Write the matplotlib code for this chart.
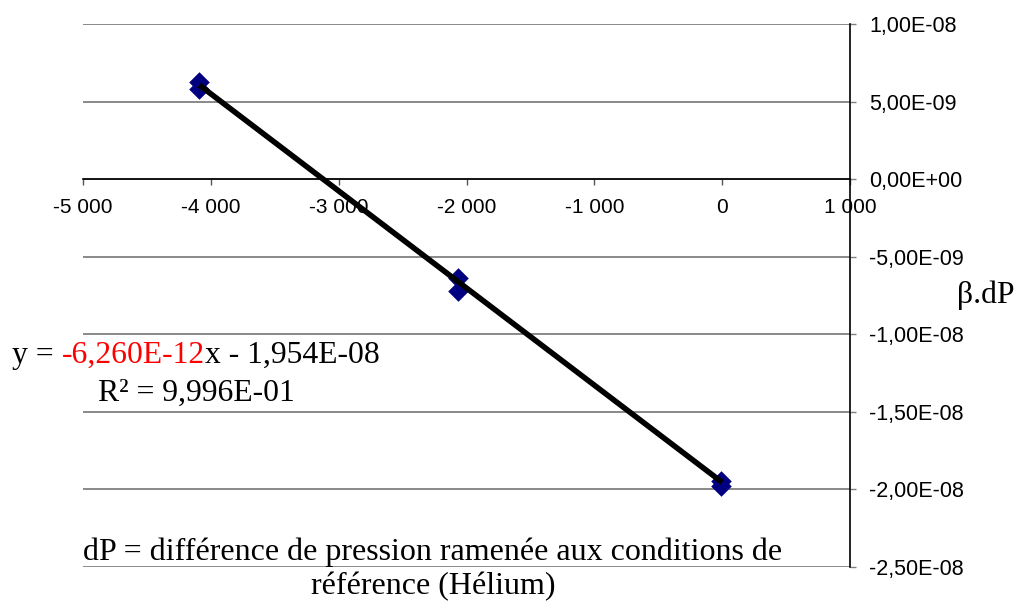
import numpy as np
import matplotlib
matplotlib.use("Agg")
import matplotlib.pyplot as plt
from matplotlib.ticker import FuncFormatter

# points
dp = [-4090, -4090, -2070, -2070, -10, -10]
beta_dp = [6.25e-9, 5.8e-9, -6.4e-9, -7.2e-9, -1.946e-8, -1.98e-8]

slope = -6.260e-12
intercept = -1.954e-08
fit_x = [-4090, 0]

x_ticks = [-5000, -4000, -3000, -2000, -1000, 0, 1000]
y_ticks = [1e-8, 5e-9, 0, -5e-9, -1e-8, -1.5e-8, -2e-8, -2.5e-8]

W, H = 1018, 603
fig = plt.figure(figsize=(W / 100, H / 100), dpi=100)
ax = fig.add_axes([83 / W, 1 - 567 / H, (850 - 83) / W, (567 - 24) / H])

ax.set_xlim(-5000, 1000)
ax.set_ylim(-2.5e-8, 1e-8)

for v in y_ticks:
    ax.axhline(v, color="#808080", lw=1.3, zorder=1)

fit_y = [slope * v + intercept for v in fit_x]
ax.plot(fit_x, fit_y, color="black", lw=4, zorder=3, solid_capstyle="butt")
ax.scatter(dp, beta_dp, marker="D", s=110, color="#000080", zorder=2, linewidths=0)

# x axis runs through y=0, y axis on the right
for s in ["top", "left"]:
    ax.spines[s].set_visible(False)
ax.spines["bottom"].set_position(("data", 0))
ax.spines["bottom"].set_linewidth(1.2)
ax.spines["right"].set_linewidth(1.2)
ax.spines["right"].set_zorder(4)
ax.spines["bottom"].set_zorder(4)

ax.set_xticks(x_ticks)
ax.set_yticks(y_ticks)
ax.xaxis.set_major_formatter(FuncFormatter(lambda v, p: f"{int(v):,}".replace(",", " ")))
ax.yaxis.set_major_formatter(FuncFormatter(lambda v, p: f"{v:.2E}".replace(".", ",")))
ax.yaxis.tick_right()
ax.tick_params(axis="x", direction="out", length=4.5, width=1, color="#555555", pad=9,
               labelsize=15, labelfontfamily="Liberation Sans")
ax.tick_params(axis="y", direction="out", length=4, width=1, color="#808080", pad=10,
               labelsize=15.5, labelfontfamily="Liberation Sans")
for lab in ax.get_xticklabels():
    lab.set_zorder(5)

serif = "Liberation Serif"
fs = 22.8
fig.text(957 / W, 1 - 303 / H, "β.dP", fontsize=fs, family=serif, va="baseline")

# equation with the slope in red
fig.canvas.draw()
r = fig.canvas.get_renderer()
xpos = 12
for txt, col in [("y = ", "black"), ("-6,260E-12", "red"), ("x - 1,954E-08", "black")]:
    t = fig.text(xpos / W, 1 - 363 / H, txt, fontsize=fs, family=serif, color=col, va="baseline")
    xpos = t.get_window_extent(r).x1
fig.text(98 / W, 1 - 401 / H, "R² = 9,996E-01", fontsize=fs, family=serif, va="baseline")

fig.text(433 / W, 1 - 560 / H, "dP = différence de pression ramenée aux conditions de",
         fontsize=23, family=serif, ha="center", va="baseline")
fig.text(433 / W, 1 - 594 / H, "référence (Hélium)",
         fontsize=23, family=serif, ha="center", va="baseline")

fig.savefig("out.png", dpi=100)
